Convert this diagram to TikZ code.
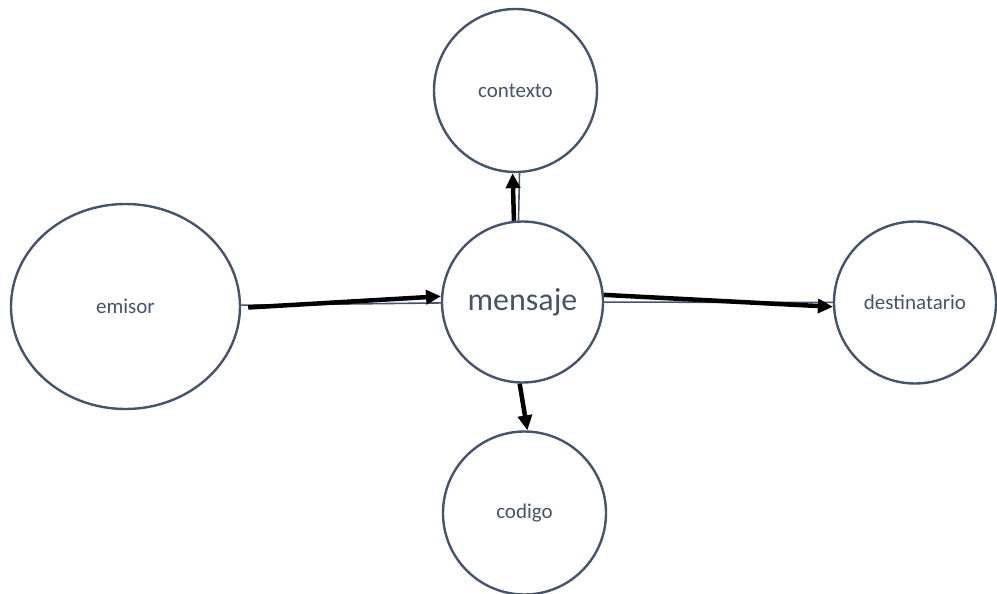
\documentclass[tikz,border=0pt]{standalone}
\usepackage{fontspec}
\setmainfont{Carlito}
\usepackage{xcolor}
\usepackage{tikz}
\usetikzlibrary{positioning, arrows.meta, shapes.geometric}
\definecolor{slate}{HTML}{44546A}

\begin{document}
\begin{tikzpicture}[x=1pt, y=-1pt,
		bubble/.style={draw=slate, line width=2.4pt, circle, inner sep=0pt, text=slate, font=\fontsize{21}{25}\selectfont},
		link/.style={draw=slate, line width=1.6pt},
		flow/.style={line width=4.5pt, -{Triangle[length=15pt, width=14pt]}}]
		\useasboundingbox (0,0) rectangle (997,594);

		% Nodes
		\node (emisor) [bubble, ellipse, minimum width=229pt, minimum height=205pt] at (125.5,306.5) {emisor};
		\node (mensaje) [bubble, minimum size=161pt, font=\fontsize{32}{38}\selectfont] at (522.5,302) {mensaje};
		\node (contexto) [bubble, minimum size=163pt] at (515.5,90.5) {contexto};
		\node (codigo) [bubble, minimum size=163pt] at (524.5,513) {codigo};
		\node (destinatario) [bubble, minimum size=162pt] at (915,302.5) {destinatario};

		% Thin links
		\draw[link] (emisor) -- (mensaje);
		\draw[link] (mensaje) -- (destinatario);
		\draw[link] ([xshift=-4pt]mensaje.north) -- ([xshift=4pt]contexto.south);

		% Arrows
		\draw[flow] ([xshift=7pt, yshift=-1pt]emisor.east) -- (mensaje.176);
		\draw[flow] (mensaje.5) -- (destinatario.183);
		\draw[flow] (mensaje.96) -- (contexto.268);
		\draw[flow] (mensaje.268) -- (codigo.88);
	\end{tikzpicture}
\end{document}
